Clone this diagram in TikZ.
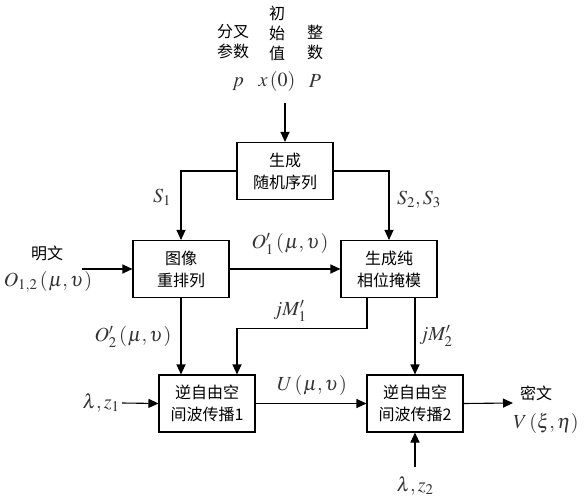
\documentclass[tikz,border=0pt]{standalone}
\usepackage{amsmath}
\usepackage{mathptmx}
\usepackage{fontspec}
\newfontfamily\cjk{Noto Sans CJK SC}
\usetikzlibrary{arrows.meta}

\tikzset{
  blk/.style={draw,line width=1.1pt,minimum width=96pt,minimum height=57pt,
    inner sep=0pt,align=center,font=\cjk\fontsize{16}{22}\selectfont},
  txt/.style={align=center,font=\cjk\fontsize{16}{20}\selectfont},
  sym/.style={text=black!80,inner sep=0pt,font=\fontsize{20}{22}\selectfont},
  flow/.style={line width=1.1pt,-{Triangle[length=10pt,width=9pt]}},
}
\newcommand{\muv}{\mkern2mu(\mkern1mu\mu,\upsilon\mkern1mu)}

\begin{document}
\begin{tikzpicture}[x=1pt,y=-1pt]
      \useasboundingbox (0,0) rectangle (586,500);
      % blocks
      \node[blk] (gen) at (285,171) {生成\\随机序列};
      \node[blk] (perm) at (181,269) {图像\\重排列};
      \node[blk] (mask) at (389,269) {生成纯\\相位掩模};
      \node[blk] (prop1) at (207,403.5) {逆自由空\\间波传播1};
      \node[blk] (prop2) at (415,403.5) {逆自由空\\间波传播2};
      % keys on top
      \node[txt] (bif) at (233,42) {分叉\\参数};
      \node[txt] (init) at (277,33) {初\\始\\值};
      \node[txt] (int) at (315,42) {整\\数};
      \node[sym] (mu) at (238,84) {$p$};
      \node[sym] (x0) at (277,82) {$x\mkern2mu(0)$};
      \node[sym] (bigp) at (315,81) {$P$};
      \coordinate (key) at (285,103);
      \coordinate (plain) at (82,269);
      \coordinate (lz1) at (122,403);
      \coordinate (lz2) at (415,467);
      \coordinate (out) at (513,403);
      % connectors
      \draw[flow] (key) -- (gen.north);
      \draw[flow] (gen.west) -| (perm.north);
      \draw[flow] (gen.east) -| (mask.north);
      \draw[flow] (plain) -- (perm.west);
      \draw[flow] (perm.east) -- (mask.west);
      \draw[flow] (perm.south) -- (perm.south |- prop1.north);
      \draw[flow] ([xshift=-22pt]mask.south) -- ++(0,30) -| ([xshift=30pt]prop1.north);
      \draw[flow] (mask.south -| prop2.north) -- (prop2.north);
      \draw[flow] (lz1) -- (prop1.west);
      \draw[flow] (prop1.east) -- (prop2.west);
      \draw[flow] (prop2.east) -- (out);
      \draw[flow] (lz2) -- (prop2.south);
      % labels
      \node[txt] (mw) at (47,253) {明文};
      \node[sym] (o12) at (48,282) {$O_{1,2}\muv$};
      \node[sym] (s1) at (162,197) {$S_1$};
      \node[sym] (s23) at (419,200) {$S_2,S_3$};
      \node[sym] (o1) at (290,244) {$O_1'\muv$};
      \node[sym] (o2) at (133,337) {$O_2'\muv$};
      \node[sym] (jm1) at (290,311) {$jM_1'$};
      \node[sym] (jm2) at (436,336) {$jM_2'$};
      \node[sym] (l1) at (101,403) {$\lambda,z_1$};
      \node[sym] (u) at (312,385) {$U\muv$};
      \node[txt] (cw) at (536,393) {密文};
      \node[sym] (v) at (546,423) {$V\mkern2mu(\xi,\eta)$};
      \node[sym] (l2) at (415,486) {$\lambda,z_2$};
      % \draw[very thin,color=gray] (0,0) grid[step=50] (586,500);
\end{tikzpicture}
\end{document}
